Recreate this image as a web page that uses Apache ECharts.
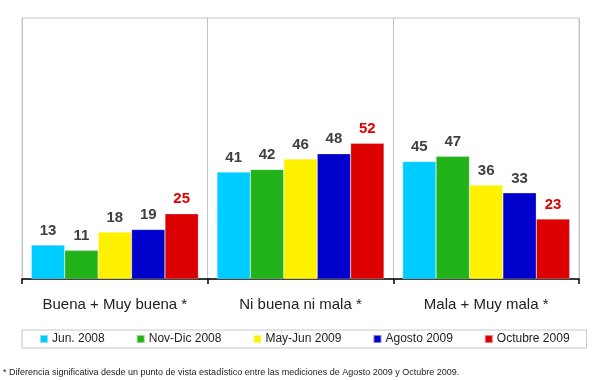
<!DOCTYPE html>
<html><head><meta charset="utf-8">
<script src="https://cdn.jsdelivr.net/npm/echarts@6/dist/echarts.min.js"></script>
<style>html,body{margin:0;padding:0;background:#fff}#c{width:600px;height:380px}</style>
</head><body><div id="c"></div>
<script>
const categories = ['Buena + Muy buena *', 'Ni buena ni mala *', 'Mala + Muy mala *'];
const seriesNames = ['Jun. 2008', 'Nov-Dic 2008', 'May-Jun 2009', 'Agosto 2009', 'Octubre 2009'];
const jun2008 = [13, 41, 45];
const novdic2008 = [11, 42, 47];
const mayjun2009 = [18, 46, 36];
const agosto2009 = [19, 48, 33];
const octubre2009 = [25, 52, 23];
const footnote = '* Diferencia significativa desde un punto de vista estadístico entre las mediciones de Agosto 2009 y Octubre 2009.';

const colors = ['#00CCFF', '#22B31B', '#FFF200', '#0000CC', '#DD0000'];
const labelColors = ['#404040', '#404040', '#404040', '#404040', '#E00000'];
const values = [jun2008, novdic2008, mayjun2009, agosto2009, octubre2009];
const font = 'Arial, "Liberation Sans", sans-serif';

const chart = echarts.init(document.getElementById('c'), null, {renderer: 'canvas'});
chart.setOption({
  animation: false,
  textStyle: {fontFamily: font},
  grid: {left: 22, right: 21, top: 18, bottom: 101, show: true, borderColor: '#c4c4c4', borderWidth: 1},
  legend: {
    data: seriesNames,
    left: 22, top: 330, width: 570,
    padding: [3, 17, 3, 17],
    itemGap: 31, itemWidth: 8, itemHeight: 8,
    icon: 'rect',
    borderColor: '#c8c8c8', borderWidth: 1,
    textStyle: {fontSize: 12, color: '#222', fontFamily: font, padding: [0, 0, 0, -1]}
  },
  xAxis: {
    type: 'category', data: categories,
    axisLine: {lineStyle: {color: '#000', width: 1.5}},
    axisTick: {show: true, interval: 0, length: 5, lineStyle: {color: '#000', width: 1.5}},
    splitLine: {show: true, interval: 0, lineStyle: {color: '#c4c4c4', width: 1}},
    axisLabel: {interval: 0, fontSize: 15, color: '#222', margin: 18, fontFamily: font}
  },
  yAxis: {type: 'value', min: 0, max: 100, show: false, splitLine: {show: false}},
  graphic: [{
    type: 'text', left: 3, top: 368,
    style: {text: footnote, fontSize: 9, fill: '#222', fontFamily: font}
  }],
  series: values.map((v, i) => ({
    name: seriesNames[i], type: 'bar', data: v,
    barGap: '0%', barCategoryGap: '10%',
    itemStyle: {color: colors[i], borderColor: 'rgba(255,255,255,0.5)', borderWidth: 0.5},
    label: {show: true, position: 'top', distance: 7, fontSize: 15, fontWeight: 'bold',
            color: labelColors[i], fontFamily: font}
  }))
});
</script></body></html>
